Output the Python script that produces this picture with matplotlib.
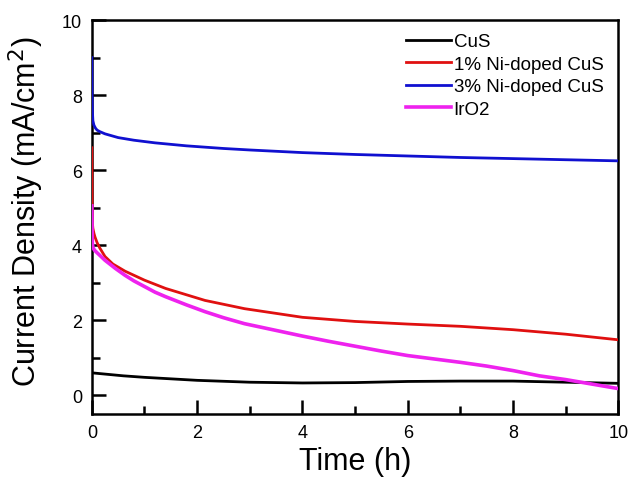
import matplotlib.pyplot as plt
from matplotlib.ticker import MultipleLocator

plt.rcParams['font.family'] = ['Liberation Sans', 'DejaVu Sans']

# 시간축 (h)
t_cus = [0, 0.3, 0.6, 1.0, 1.5, 2.0, 3.0, 4.0, 5.0, 6.0, 7.0, 8.0, 9.0, 10.0]
cus = [0.60, 0.56, 0.52, 0.48, 0.44, 0.40, 0.35, 0.33, 0.34, 0.37, 0.38, 0.38, 0.35, 0.32]

t_ni1 = [0, 0.005, 0.01, 0.02, 0.04, 0.06, 0.1, 0.15, 0.25, 0.4, 0.63, 1.0, 1.4, 2.15, 2.9, 4.0, 5.0, 6.0, 7.0, 8.0, 9.0, 10.0]
ni1 = [6.6, 5.2, 4.6, 4.45, 4.32, 4.22, 4.07, 3.93, 3.7, 3.5, 3.31, 3.07, 2.85, 2.53, 2.31, 2.08, 1.97, 1.9, 1.84, 1.75, 1.63, 1.48]

t_ni3 = [0, 0.005, 0.01, 0.02, 0.04, 0.07, 0.1, 0.15, 0.25, 0.5, 0.8, 1.2, 1.8, 2.5, 3.0, 4.0, 5.0, 6.0, 7.0, 8.0, 9.0, 10.0]
ni3 = [9.0, 8.0, 7.6, 7.32, 7.2, 7.12, 7.07, 7.03, 6.97, 6.87, 6.8, 6.73, 6.65, 6.58, 6.54, 6.47, 6.42, 6.38, 6.34, 6.31, 6.28, 6.25]

t_iro2 = [0, 0.005, 0.01, 0.02, 0.05, 0.1, 0.25, 0.45, 0.63, 0.8, 1.0, 1.2, 1.4, 1.6, 1.8, 2.15, 2.5, 2.9, 3.5, 4.0, 4.5, 5.0, 5.5, 6.0, 6.5, 7.0, 7.5, 8.0, 8.5, 9.0, 9.5, 10.0]
iro2 = [5.05, 4.4, 4.05, 3.94, 3.87, 3.8, 3.6, 3.38, 3.2, 3.05, 2.9, 2.75, 2.63, 2.52, 2.41, 2.23, 2.07, 1.91, 1.73, 1.58, 1.44, 1.31, 1.18, 1.06, 0.97, 0.88, 0.78, 0.66, 0.52, 0.42, 0.3, 0.18]

fig = plt.figure(figsize=(6.29, 4.81), dpi=100)
ax = fig.add_axes([0.146, 0.137, 0.837, 0.819])

ax.plot(t_cus, cus, color='black', lw=2, label='CuS', zorder=3)
ax.plot(t_ni1, ni1, color='#e01010', lw=2, label='1% Ni-doped CuS', zorder=3)
ax.plot(t_ni3, ni3, color='#1010d0', lw=2, label='3% Ni-doped CuS', zorder=3)
ax.plot(t_iro2, iro2, color='#ee22ee', lw=2.6, label='IrO2', zorder=3)

ax.set_xlim(0, 10)
ax.set_ylim(-0.5, 10)
ax.xaxis.set_major_locator(MultipleLocator(2))
ax.xaxis.set_minor_locator(MultipleLocator(1))
ax.yaxis.set_major_locator(MultipleLocator(2))
ax.yaxis.set_minor_locator(MultipleLocator(1))
ax.tick_params(which='major', direction='in', length=10, width=1.8, labelsize=13, pad=7)
ax.tick_params(which='minor', direction='in', length=5.5, width=1.8)
for s in ax.spines.values():
    s.set_linewidth(1.8)

ax.set_xlabel('Time (h)', fontsize=22, labelpad=4)
ax.set_ylabel('Current Density (mA/cm$^2$)', fontsize=22)
ax.yaxis.set_label_coords(-0.087, 0.515)

ax.legend(loc='upper right', frameon=False, fontsize=13.5, handlelength=2.4,
          handletextpad=0.15, labelspacing=0.28, borderaxespad=0.3,
          bbox_to_anchor=(0.997, 1.0))

plt.savefig('out.png', dpi=100)
